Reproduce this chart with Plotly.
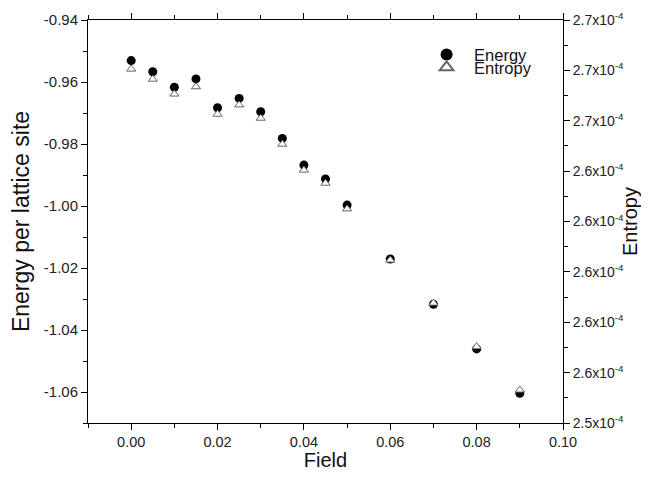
import plotly.graph_objects as go

field = [0.0, 0.005, 0.01, 0.015, 0.02, 0.025, 0.03, 0.035, 0.04, 0.045, 0.05, 0.06, 0.07, 0.08, 0.09]
energy = [-0.9531, -0.9567, -0.9617, -0.9590, -0.9683, -0.9653, -0.9696, -0.9782,
          -0.9868, -0.9913, -0.9997, -1.0171, -1.0317, -1.0461, -1.0604]
entropy = [2.6805e-4, 2.6765e-4, 2.6706e-4, 2.6735e-4, 2.6626e-4, 2.6663e-4, 2.6610e-4, 2.6507e-4,
           2.6404e-4, 2.6352e-4, 2.6250e-4, 2.6047e-4, 2.5876e-4, 2.5703e-4, 2.5531e-4]

x_ticks = [0.0, 0.02, 0.04, 0.06, 0.08, 0.10]
x_tick_text = ["0.00", "0.02", "0.04", "0.06", "0.08", "0.10"]
y_ticks = [-0.94, -0.96, -0.98, -1.00, -1.02, -1.04, -1.06]
y_tick_text = ["-0.94", "-0.96", "-0.98", "-1.00", "-1.02", "-1.04", "-1.06"]
y2_ticks = [2.54e-4, 2.56e-4, 2.58e-4, 2.60e-4, 2.62e-4, 2.64e-4, 2.66e-4, 2.68e-4, 2.70e-4]
y2_tick_text = ["2.5x10<sup>-4</sup>", "2.6x10<sup>-4</sup>", "2.6x10<sup>-4</sup>", "2.6x10<sup>-4</sup>",
                "2.6x10<sup>-4</sup>", "2.6x10<sup>-4</sup>", "2.7x10<sup>-4</sup>", "2.7x10<sup>-4</sup>",
                "2.7x10<sup>-4</sup>"]

FONT = "Liberation Sans, Arial, sans-serif"

fig = go.Figure()
fig.add_trace(go.Scatter(x=field, y=energy, mode="markers", name="Energy", legend="legend",
                         marker=dict(symbol="circle", size=9, color="black"), yaxis="y"))
fig.add_trace(go.Scatter(x=field, y=entropy, mode="markers", name="Entropy", legend="legend2",
                         marker=dict(symbol="triangle-up", size=8, color="white",
                                     line=dict(color="#666666", width=1)), yaxis="y2"))

def axis_common(size):
    return dict(showline=True, linecolor="black", linewidth=1, ticks="outside", ticklen=6,
                tickwidth=1, tickcolor="black", showgrid=False, zeroline=False, automargin=False,
                tickfont=dict(family=FONT, size=size, color="#222222"))

leg_common = dict(xanchor="left", yanchor="middle", bgcolor="rgba(0,0,0,0)", itemwidth=45,
                  font=dict(family=FONT, size=16.5, color="#111111"), itemsizing="constant")

# the page body has an 8px margin on every side, so the figure is 16px smaller than the window
fig.update_layout(
    width=633, height=463,
    margin=dict(l=80, r=78, t=12, b=48, autoexpand=False),
    plot_bgcolor="white", paper_bgcolor="white",
    font=dict(family=FONT, color="#111111"),
    xaxis=dict(range=[-0.01, 0.10], tickvals=x_ticks, ticktext=x_tick_text, mirror="ticks",
               minor=dict(dtick=0.01, ticks="outside", ticklen=4, tickcolor="black", showgrid=False),
               title=dict(text="Field", font=dict(family=FONT, size=20), standoff=33),
               **axis_common(14.5)),
    yaxis=dict(range=[-1.07, -0.94], tickvals=y_ticks, ticktext=y_tick_text,
               minor=dict(dtick=0.01, tick0=-0.94, ticks="outside", ticklen=4, tickcolor="black", showgrid=False),
               title=dict(text="Energy per lattice site", font=dict(family=FONT, size=23), standoff=20),
               **axis_common(15)),
    yaxis2=dict(range=[2.54e-4, 2.70e-4], tickvals=y2_ticks, ticktext=y2_tick_text,
                overlaying="y", side="right",
                minor=dict(dtick=0.01e-4, tick0=2.54e-4, ticks="outside", ticklen=4, tickcolor="black", showgrid=False),
                title=dict(text="Entropy", font=dict(family=FONT, size=20), standoff=8),
                **axis_common(14)),
    legend=dict(x=0.697, y=0.914, **leg_common),
    legend2=dict(x=0.697, y=0.882, **leg_common),
    showlegend=True,
)

fig.write_html("out.html")
